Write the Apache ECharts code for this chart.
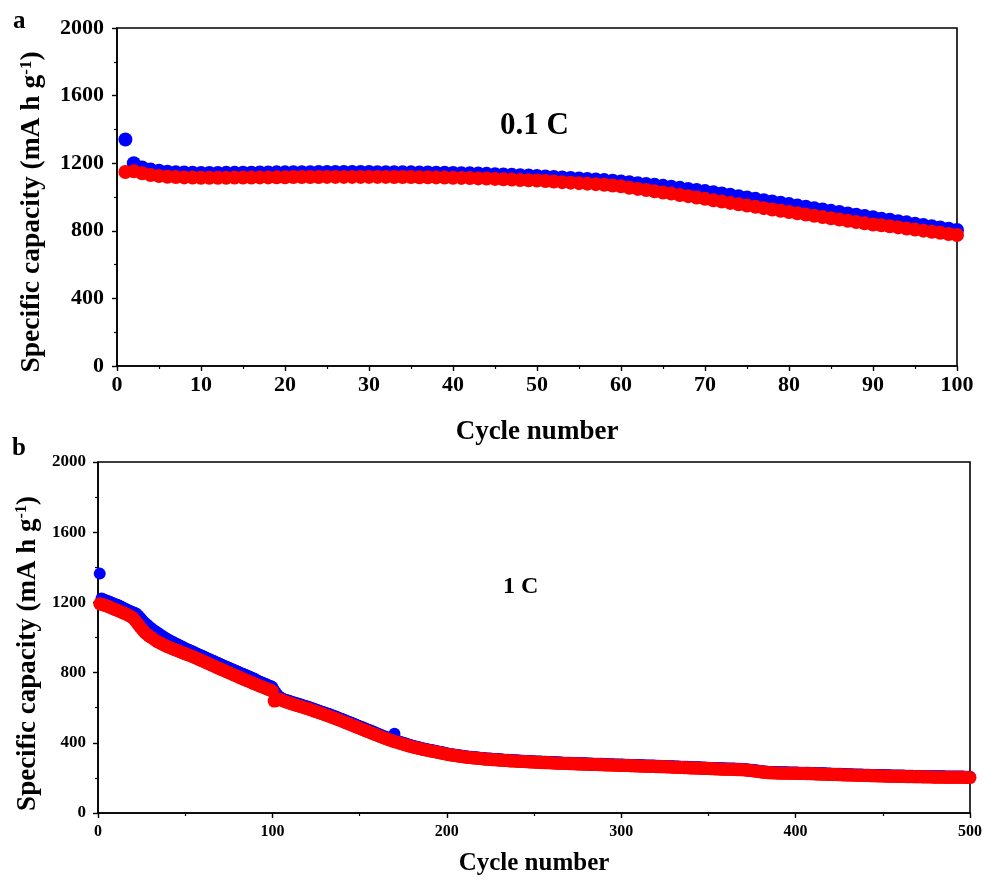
<!DOCTYPE html>
<html>
<head>
<meta charset="utf-8">
<script src="https://cdn.jsdelivr.net/npm/echarts@6/dist/echarts.min.js"></script>
<style>html,body{margin:0;padding:0;background:#fff}#c{width:989px;height:884px}</style>
</head>
<body>
<div id="c"></div>
<script>
// Panel a: 0.1 C, cycles 1..100
const aBlue = [
1340,1200,1175,1162,1155,1150,1147,1145,1143,1142,
1142,1142,1143,1143,1144,1144,1145,1145,1146,1146,
1147,1147,1147,1148,1148,1148,1148,1148,1148,1148,
1147,1147,1147,1146,1146,1145,1145,1144,1143,1142,
1141,1140,1139,1137,1135,1133,1131,1129,1127,1125,
1122,1119,1116,1113,1110,1107,1104,1100,1096,1092,
1087,1082,1077,1072,1066,1060,1054,1048,1042,1035,
1028,1021,1013,1005,997,989,981,974,966,958,
950,942,934,926,918,911,903,895,888,880,
872,865,857,850,842,835,827,820,812,805];
const aRed = [
1148,1152,1140,1130,1124,1120,1118,1116,1115,1114,
1114,1114,1114,1115,1115,1115,1116,1116,1117,1117,
1118,1118,1118,1118,1119,1119,1119,1119,1119,1119,
1119,1119,1118,1118,1118,1117,1117,1116,1115,1114,
1113,1112,1110,1109,1107,1105,1103,1101,1099,1097,
1094,1091,1088,1085,1082,1079,1076,1072,1068,1063,
1054,1048,1041,1034,1027,1020,1012,1005,997,989,
981,973,965,957,949,942,934,926,919,911,
904,896,889,881,874,867,859,852,844,837,
833,827,820,814,807,801,794,788,781,775];

// Panel b: 1 C, cycles 1..500
const bBlue = [
1364,1222,1218,1214,1210,1206,1202,1198,1194,1190,
1186,1182,1177,1172,1167,1162,1157,1152,1148,1144,
1141,1135,1126,1115,1104,1093,1083,1074,1065,1057,
1049,1042,1035,1028,1021,1014,1008,1002,996,990,
984,979,974,969,964,959,954,949,944,939,
935,930,926,921,917,912,908,903,899,894,
890,885,881,876,872,867,863,858,854,849,
845,841,836,832,828,823,819,815,810,806,
802,797,793,789,785,780,776,772,768,764,
756,752,748,744,740,736,731,727,723,718,
700,685,672,662,656,651,647,644,641,638,
634,631,628,625,622,619,616,613,610,607,
604,600,597,593,590,586,583,579,576,572,
569,565,562,558,554,551,547,543,539,535,
531,527,523,519,515,511,507,503,499,495,
491,487,483,479,475,471,467,463,458,454,
450,446,442,438,434,430,426,423,419,452,
413,410,406,403,400,397,394,391,388,385,
382,379,377,374,372,369,367,365,363,361,
359,357,355,353,351,349,347,345,343,341,
338,336,335,333,332,330,329,327,326,324,
323,322,321,320,319,318,317,316,315,314,
313,312,311,311,310,309,308,308,307,306,
306,305,304,304,303,302,302,301,301,300,
299,299,298,298,297,297,296,296,295,295,
294,294,293,293,292,292,292,291,291,290,
290,289,289,289,288,288,287,287,287,286,
286,285,285,285,284,284,284,283,283,283,
282,282,282,281,281,281,280,280,280,279,
279,279,278,278,278,277,277,277,276,276,
276,275,275,275,274,274,274,273,273,273,
272,272,272,271,271,271,270,270,270,269,
269,269,268,268,268,267,267,267,266,266,
265,265,265,264,264,263,263,263,262,262,
261,261,261,260,260,259,259,259,258,258,
257,257,257,256,256,256,255,255,255,254,
254,254,253,253,253,252,252,252,251,251,
250,249,248,247,246,245,243,242,241,239,
238,237,236,235,234,234,233,233,233,232,
232,232,232,232,232,231,231,231,231,231,
231,230,230,230,230,229,229,229,228,228,
228,227,227,227,226,226,226,225,225,225,
224,224,224,223,223,223,222,222,222,221,
221,221,220,220,220,219,219,219,218,218,
218,218,217,217,217,217,216,216,216,216,
215,215,215,215,214,214,214,214,213,213,
213,213,212,212,212,212,212,211,211,211,
211,211,210,210,210,210,210,210,209,209,
209,209,209,209,209,208,208,208,208,208,
208,208,208,208,208,208,207,207,207,207];
const bRed = [
1192,1190,1186,1183,1180,1176,1171,1167,1163,1159,
1155,1151,1147,1142,1138,1134,1129,1124,1118,1112,
1100,1088,1075,1062,1050,1038,1028,1019,1011,1004,
997,990,983,977,972,967,962,957,952,947,
943,939,935,931,927,923,919,915,911,907,
903,900,896,892,888,884,879,875,870,866,
862,857,853,848,844,839,835,830,826,821,
817,813,808,804,800,795,791,786,782,778,
773,769,765,760,756,752,748,744,739,735,
731,727,723,719,715,711,707,703,699,695,
638,640,644,648,645,640,636,632,629,626,
622,619,616,613,610,607,604,601,598,595,
592,588,585,581,578,574,571,567,564,560,
557,553,550,546,542,539,535,531,527,523,
519,515,511,507,503,499,495,491,487,483,
479,475,471,467,463,459,455,451,447,443,
439,435,432,428,424,421,417,414,410,407,
404,401,398,395,392,389,386,383,380,378,
375,373,370,368,366,363,361,359,357,355,
353,351,349,347,345,343,341,339,337,335,
333,331,330,328,327,325,324,322,321,319,
318,317,316,315,314,313,312,311,310,309,
308,307,306,306,305,304,303,303,302,301,
301,300,299,299,298,297,297,296,296,295,
294,294,293,293,292,292,291,291,290,290,
289,289,288,288,287,287,287,286,286,285,
285,284,284,284,283,283,282,282,282,281,
281,280,280,280,279,279,279,278,278,278,
277,277,277,276,276,276,275,275,275,274,
274,274,273,273,273,272,272,272,271,271,
271,270,270,270,269,269,269,268,268,268,
267,267,267,266,266,266,265,265,265,264,
264,264,263,263,263,262,262,262,261,261,
260,260,260,259,259,258,258,258,257,257,
256,256,256,255,255,254,254,254,253,253,
252,252,252,251,251,251,250,250,250,249,
249,249,248,248,248,247,247,247,246,246,
245,244,243,242,241,240,238,237,236,234,
233,232,231,230,229,229,228,228,228,227,
227,227,227,227,227,226,226,226,226,226,
226,225,225,225,225,224,224,224,223,223,
223,222,222,222,221,221,221,220,220,220,
219,219,219,218,218,218,217,217,217,216,
216,216,215,215,215,214,214,214,213,213,
213,213,212,212,212,212,211,211,211,211,
210,210,210,210,209,209,209,209,208,208,
208,208,207,207,207,207,207,206,206,206,
206,206,205,205,205,205,205,205,204,204,
204,204,204,204,204,203,203,203,203,203,
203,203,203,203,203,203,202,202,202,202];

const labelA = '0.1 C';
const labelB = '1 C';

const FONT = "'Liberation Serif','Times New Roman',serif";
const toPts = arr => arr.map((v, i) => [i + 1, v]);
const plain = v => String(v);

function xAxis(gi, max, interval, fs, margin, gap, nfs) {
  return {
    type: 'value', gridIndex: gi, min: 0, max: max, interval: interval,
    name: 'Cycle number', nameLocation: 'middle', nameGap: gap,
    nameTextStyle: {fontFamily: FONT, fontWeight: 'bold', fontSize: nfs, color: '#000'},
    axisLine: {show: true, onZero: false, lineStyle: {color: '#000', width: 1.6}},
    axisTick: {show: true, inside: false, length: 5, lineStyle: {color: '#000', width: 1.4}},
    minorTick: {show: true, splitNumber: 2, length: 3, lineStyle: {color: '#000', width: 1.2}},
    axisLabel: {fontFamily: FONT, fontWeight: 'bold', fontSize: fs, color: '#000', margin: margin, formatter: plain},
    splitLine: {show: false}
  };
}
function yAxis(gi, fs, margin, gap, nfs, pad) {
  return {
    type: 'value', gridIndex: gi, min: 0, max: 2000, interval: 400,
    name: '{t|Specific capacity (mA h g}{s|-1}{t|)}', nameLocation: 'middle', nameGap: gap, nameRotate: 90,
    nameTextStyle: {
      padding: pad,
      rich: {
        t: {fontFamily: FONT, fontWeight: 'bold', fontSize: nfs, color: '#000'},
        s: {fontFamily: FONT, fontWeight: 'bold', fontSize: Math.round(nfs * 0.6), color: '#000', verticalAlign: 'top', padding: [0, 0, nfs * 0.45, 0]}
      }
    },
    axisLine: {show: true, onZero: false, lineStyle: {color: '#000', width: 1.6}},
    axisTick: {show: true, inside: false, length: 5, lineStyle: {color: '#000', width: 1.4}},
    minorTick: {show: true, splitNumber: 2, length: 3, lineStyle: {color: '#000', width: 1.2}},
    axisLabel: {fontFamily: FONT, fontWeight: 'bold', fontSize: fs, color: '#000', margin: margin, formatter: plain},
    splitLine: {show: false}
  };
}

const chart = echarts.init(document.getElementById('c'), null, {renderer: 'canvas'});
chart.setOption({
  backgroundColor: '#fff',
  animation: false,
  grid: [
    {left: 117, top: 28, right: 32, bottom: 518, show: true, borderColor: '#000', borderWidth: 1.6, backgroundColor: 'transparent'},
    {left: 98, top: 462, right: 19, bottom: 71, show: true, borderColor: '#000', borderWidth: 1.6, backgroundColor: 'transparent'}
  ],
  xAxis: [xAxis(0, 100, 10, 22, 8, 53, 27), xAxis(1, 500, 100, 16, 11, 38, 25)],
  yAxis: [yAxis(0, 22, 13, 70, 27.5, [0, 30, 0, 0]), yAxis(1, 17, 12, 53, 27, [0, 32, 0, 0])],
  graphic: [
    {type: 'text', left: 13, top: 9, style: {text: 'a', font: "bold 25px 'Liberation Serif', serif", fill: '#000'}},
    {type: 'text', left: 12, top: 436, style: {text: 'b', font: "bold 25px 'Liberation Serif', serif", fill: '#000'}},
    {type: 'text', left: 500, top: 110, style: {text: labelA, font: "bold 31px 'Liberation Serif', serif", fill: '#000'}},
    {type: 'text', left: 503, top: 575, style: {text: labelB, font: "bold 24px 'Liberation Serif', serif", fill: '#000'}}
  ],
  series: [
    {type: 'scatter', xAxisIndex: 0, yAxisIndex: 0, data: toPts(aBlue), symbol: 'circle', symbolSize: 14, itemStyle: {color: '#0000ff', opacity: 1}, clip: true, z: 2},
    {type: 'scatter', xAxisIndex: 0, yAxisIndex: 0, data: toPts(aRed), symbol: 'circle', symbolSize: 14, itemStyle: {color: '#ff0000', opacity: 1}, clip: true, z: 3},
    {type: 'scatter', xAxisIndex: 1, yAxisIndex: 1, data: toPts(bBlue), symbol: 'circle', symbolSize: 12, itemStyle: {color: '#0000ff', opacity: 1}, clip: true, z: 2},
    {type: 'scatter', xAxisIndex: 1, yAxisIndex: 1, data: toPts(bRed), symbol: 'circle', symbolSize: 13, itemStyle: {color: '#ff0000', opacity: 1}, clip: true, z: 3}
  ]
});
</script>
</body>
</html>
